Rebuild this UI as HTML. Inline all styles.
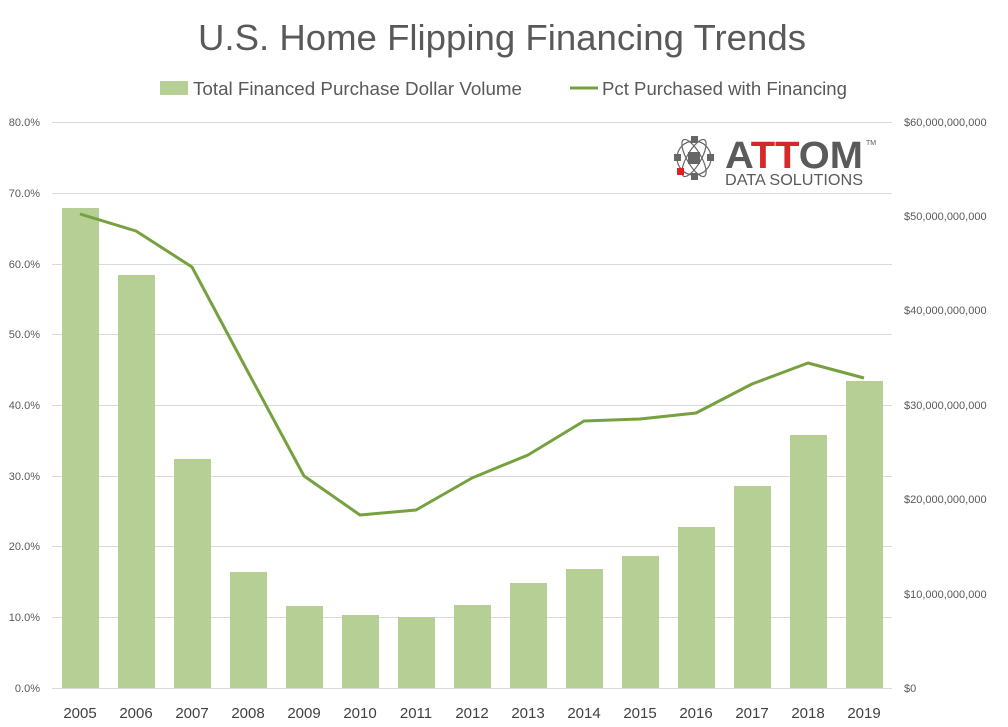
<!DOCTYPE html><html><head><style>body{margin:0;background:#fff}svg{display:block}</style></head><body>
<svg width="1008" height="727" xmlns="http://www.w3.org/2000/svg" font-family="Liberation Sans, sans-serif">
<rect width="1008" height="727" fill="#fff"/>
<text x="198" y="50" font-size="36" fill="#595959" textLength="608" lengthAdjust="spacingAndGlyphs">U.S. Home Flipping Financing Trends</text>
<rect x="160" y="81" width="28" height="14" fill="#b5cf95"/>
<text x="193" y="95" font-size="18" fill="#595959" textLength="329" lengthAdjust="spacingAndGlyphs">Total Financed Purchase Dollar Volume</text>
<line x1="570" y1="88" x2="598" y2="88" stroke="#77a041" stroke-width="3"/>
<text x="602" y="95" font-size="18" fill="#595959" textLength="245" lengthAdjust="spacingAndGlyphs">Pct Purchased with Financing</text>
<g stroke="#d9d9d9" stroke-width="1">
<line x1="52" x2="892" y1="122.5" y2="122.5"/><line x1="52" x2="892" y1="193.5" y2="193.5"/><line x1="52" x2="892" y1="264.5" y2="264.5"/><line x1="52" x2="892" y1="334.5" y2="334.5"/><line x1="52" x2="892" y1="405.5" y2="405.5"/><line x1="52" x2="892" y1="476.5" y2="476.5"/><line x1="52" x2="892" y1="546.5" y2="546.5"/><line x1="52" x2="892" y1="617.5" y2="617.5"/><line x1="52" x2="892" y1="688.5" y2="688.5"/>
</g>
<g font-size="11" fill="#595959" text-anchor="end">
<text x="40" y="126">80.0%</text><text x="40" y="197">70.0%</text><text x="40" y="268">60.0%</text><text x="40" y="338">50.0%</text><text x="40" y="409">40.0%</text><text x="40" y="480">30.0%</text><text x="40" y="550">20.0%</text><text x="40" y="621">10.0%</text><text x="40" y="692">0.0%</text>
</g>
<g font-size="11" fill="#595959" text-anchor="start">
<text x="904" y="126">$60,000,000,000</text><text x="904" y="220">$50,000,000,000</text><text x="904" y="314">$40,000,000,000</text><text x="904" y="409">$30,000,000,000</text><text x="904" y="503">$20,000,000,000</text><text x="904" y="598">$10,000,000,000</text><text x="904" y="692">$0</text>
</g>
<g fill="#b5cf95">
<rect x="62" y="208" width="37" height="480"/><rect x="118" y="275" width="37" height="413"/><rect x="174" y="459" width="37" height="229"/><rect x="230" y="572" width="37" height="116"/><rect x="286" y="606" width="37" height="82"/><rect x="342" y="615" width="37" height="73"/><rect x="398" y="617" width="37" height="71"/><rect x="454" y="605" width="37" height="83"/><rect x="510" y="583" width="37" height="105"/><rect x="566" y="569" width="37" height="119"/><rect x="622" y="556" width="37" height="132"/><rect x="678" y="527" width="37" height="161"/><rect x="734" y="486" width="37" height="202"/><rect x="790" y="435" width="37" height="253"/><rect x="846" y="381" width="37" height="307"/>
</g>
<polyline fill="none" stroke="#77a041" stroke-width="3" stroke-linejoin="round" points="80,214 136,231 192,267 248,372 304,476 360,515 416,510 472,478 528,455 584,421 640,419 696,413 752,384 808,363 864,378"/>
<g font-size="15" fill="#404040" text-anchor="middle">
<text x="80" y="718">2005</text><text x="136" y="718">2006</text><text x="192" y="718">2007</text><text x="248" y="718">2008</text><text x="304" y="718">2009</text><text x="360" y="718">2010</text><text x="416" y="718">2011</text><text x="472" y="718">2012</text><text x="528" y="718">2013</text><text x="584" y="718">2014</text><text x="640" y="718">2015</text><text x="696" y="718">2016</text><text x="752" y="718">2017</text><text x="808" y="718">2018</text><text x="864" y="718">2019</text>
</g>
<g transform="translate(694,158)" stroke="#666" stroke-width="2" fill="none">
<circle r="17" stroke-width="1.2"/><ellipse rx="21" ry="7" stroke-width="1.2" transform="rotate(60)"/><ellipse rx="21" ry="7" stroke-width="1.2" transform="rotate(-60)"/>
<rect x="-5" y="-5" width="10" height="10" fill="#666"/>
<rect x="-19" y="-3" width="5" height="5" fill="#666"/><rect x="14" y="-3" width="5" height="5" fill="#666"/><rect x="-2" y="-21" width="5" height="5" fill="#666"/><rect x="-2" y="16" width="5" height="5" fill="#666"/>
<rect x="-16" y="11" width="5" height="5" fill="#e02020" stroke="#e02020"/>
</g>
<text x="725" y="168" font-size="38" font-weight="bold" fill="#5a5a5a" textLength="138" lengthAdjust="spacingAndGlyphs">A<tspan fill="#d9262b">TT</tspan>OM</text>
<text x="866" y="145" font-size="7" fill="#5a5a5a">TM</text>
<text x="725" y="185" font-size="16" fill="#5a5a5a" textLength="138" lengthAdjust="spacingAndGlyphs">DATA SOLUTIONS</text>
</svg></body></html>
